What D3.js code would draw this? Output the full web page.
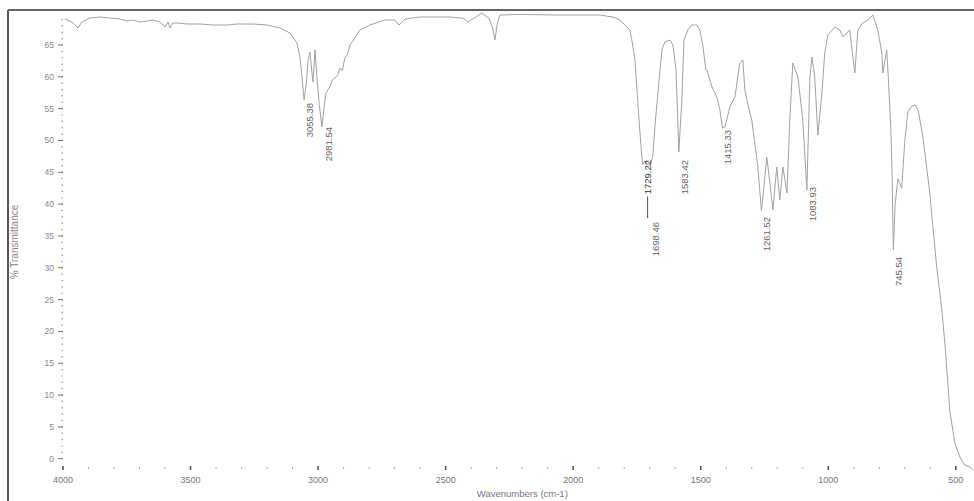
<!DOCTYPE html>
<html>
<head>
<meta charset="utf-8">
<script src="https://cdn.jsdelivr.net/npm/d3@7"></script>
<style>
  html, body { margin: 0; padding: 0; background: #fff; }
  svg { display: block; }
  text { font-family: "Liberation Sans", Arial, sans-serif; }
</style>
</head>
<body>
<svg id="chart" width="974" height="501"></svg>
<script>
// ---- data ----
const wavenumbers = [
  3992, 3965, 3941, 3926, 3894, 3855, 3816, 3777, 3749, 3726, 3698, 3671, 3647, 3620,
  3600, 3588, 3581, 3569, 3553, 3514, 3463, 3412, 3357, 3318, 3295, 3255, 3200, 3150,
  3110, 3083, 3071, 3063, 3055, 3046, 3040, 3032, 3025, 3020, 3012, 3005, 2995, 2985,
  2977, 2969, 2954, 2944, 2934, 2924, 2914, 2905, 2895, 2885, 2875, 2856, 2836, 2797,
  2738, 2699, 2683, 2660, 2601, 2483, 2430, 2413, 2358, 2330, 2315, 2307, 2297, 2287,
  2209, 2052, 1895, 1844, 1817, 1797, 1778, 1770, 1758, 1750, 1739, 1731, 1727, 1719,
  1712, 1699, 1688, 1680, 1668, 1652, 1641, 1621, 1609, 1597, 1590, 1586, 1574, 1566,
  1551, 1535, 1515, 1504, 1492, 1480, 1476, 1456, 1437, 1425, 1415, 1405, 1386, 1366,
  1347, 1335, 1327, 1315, 1300, 1276, 1262, 1241, 1229, 1217, 1202, 1190, 1178, 1162,
  1151, 1139, 1119, 1100, 1084, 1072, 1064, 1053, 1041, 1025, 1014, 1002, 974, 955,
  943, 916, 896, 884, 865, 845, 825, 806, 790, 786, 771, 765, 755, 750, 745,
  738, 727, 712, 700, 688, 672, 660, 648, 629, 602, 590, 575, 555, 543,
  524, 504, 484, 465, 445, 433
];
const transmittance = [
  69.08, 68.61, 67.67, 68.61, 69.24, 69.40, 69.24, 69.08, 68.77, 68.93, 68.61, 68.77, 68.93, 68.61,
  67.83, 68.61, 67.67, 68.46, 68.46, 68.30, 68.30, 68.14, 68.14, 68.30, 68.30, 68.30, 68.14, 67.67,
  66.88, 65.31, 63.11, 59.97, 56.40, 59.00, 62.50, 63.90, 61.00, 59.19, 64.21, 60.00, 55.50, 52.12,
  55.00, 57.50, 58.40, 59.50, 59.82, 60.20, 61.39, 61.00, 62.96, 63.50, 65.00, 66.10, 67.36, 68.14,
  68.93, 68.93, 68.14, 69.08, 69.40, 69.40, 69.20, 68.61, 70.02, 69.20, 67.50, 65.79, 68.50, 69.71,
  69.80, 69.71, 69.71, 69.40, 68.93, 68.14, 67.36, 65.79, 62.64, 57.93, 51.65, 47.50, 46.20, 46.80,
  46.30, 46.00, 47.50, 52.00, 57.46, 64.21, 65.47, 65.79, 65.00, 61.07, 53.22, 48.19, 56.36, 65.79,
  67.36, 68.14, 68.14, 67.36, 65.00, 61.07, 61.07, 58.40, 56.83, 54.79, 52.00, 52.12, 55.26, 56.83,
  62.17, 62.64, 57.93, 55.57, 53.22, 45.83, 38.90, 47.40, 43.32, 39.08, 45.83, 40.65, 45.83, 41.75,
  53.22, 62.17, 59.97, 53.22, 42.22, 59.97, 63.11, 59.97, 50.86, 57.46, 63.74, 66.57, 67.83, 67.36,
  66.26, 67.36, 60.60, 67.36, 68.46, 68.93, 69.71, 67.36, 63.74, 60.60, 64.21, 60.00, 52.00, 45.00, 32.80,
  40.00, 44.00, 42.50, 50.00, 54.50, 55.40, 55.57, 54.80, 50.55, 41.75, 36.41, 30.12, 23.37, 18.18,
  7.66, 2.47, 0.27, -1.00, -1.30, -1.77
];

const xMajorTicks = [4000, 3500, 3000, 2500, 2000, 1500, 1000, 500];
const yMajorTicks = [0, 5, 10, 15, 20, 25, 30, 35, 40, 45, 50, 55, 60, 65];

const peakLabels = ["3055.38", "2981.54", "1729.22", "1698.46", "1583.42", "1415.33", "1261.52", "1083.93", "745.54"];
const peakWn     = [3055.38, 2981.54, 1729.22, 1698.46, 1583.42, 1415.33, 1261.52, 1083.93, 745.54];
const peakLabelTopT = [55.89, 52.12, 46.93, 37.19, 46.93, 51.65, 37.98, 42.69, 31.69];

const xTitle = "Wavenumbers (cm-1)";
const yTitle = "% Transmittance";

// ---- drawing ----
const svg = d3.select("#chart");
const W = 974, H = 501;

const x = d3.scaleLinear().domain([4000, 430]).range([63, 973.7]);
const y = d3.scaleLinear().domain([-1.3, 70.5]).range([467, 10]);

// frame
svg.append("line").attr("x1", 8).attr("x2", 8).attr("y1", 10).attr("y2", H)
  .attr("stroke", "#555").attr("stroke-width", 2);
svg.append("line").attr("x1", 8).attr("x2", W).attr("y1", 10).attr("y2", 10)
  .attr("stroke", "#666").attr("stroke-width", 2);

// x axis: minor ticks every 100, major every 500
const xMinor = d3.range(4000, 399, -100);
const xAxisY = y(-1.3) + 1;
svg.append("g").selectAll("line").data(xMinor).join("line")
  .attr("x1", d => x(d)).attr("x2", d => x(d))
  .attr("y1", xAxisY - 1).attr("y2", xAxisY + 1)
  .attr("stroke", d => (d % 500 === 0 ? "#555" : "#aaa"))
  .attr("stroke-width", d => (d % 500 === 0 ? 1.6 : 1))
  .filter(d => d % 500 === 0)
  .attr("y1", xAxisY - 2).attr("y2", xAxisY + 2);

svg.append("g").selectAll("text").data(xMajorTicks).join("text")
  .attr("x", d => x(d)).attr("y", xAxisY + 15)
  .attr("text-anchor", "middle")
  .attr("font-size", 9).attr("fill", "#777")
  .text(d => d);

// y axis: minor dots every 1, major with labels every 5
const yMinor = d3.range(0, 70, 1);
const yAxisX = x(4000);
svg.append("g").selectAll("line").data(yMinor).join("line")
  .attr("x1", yAxisX - 1.5).attr("x2", yAxisX)
  .attr("y1", d => y(d)).attr("y2", d => y(d))
  .attr("stroke", "#999").attr("stroke-width", 1.2);
svg.append("g").selectAll("line").data(yMajorTicks).join("line")
  .attr("x1", yAxisX - 5).attr("x2", yAxisX)
  .attr("y1", d => y(d)).attr("y2", d => y(d))
  .attr("stroke", "#777").attr("stroke-width", 1);
svg.append("g").selectAll("text").data(yMajorTicks).join("text")
  .attr("x", yAxisX - 9).attr("y", d => y(d)).attr("dy", "0.35em")
  .attr("text-anchor", "end")
  .attr("font-size", 8.5).attr("fill", "#888")
  .text(d => d);

// titles
svg.append("text")
  .attr("x", (x(4000) + x(430)) / 2 + 4).attr("y", 497)
  .attr("text-anchor", "middle").attr("font-size", 9.5).attr("fill", "#777")
  .text(xTitle);
svg.append("text")
  .attr("transform", `translate(18, ${y(35) + 6}) rotate(-90)`)
  .attr("text-anchor", "middle").attr("font-size", 10).attr("fill", "#888")
  .text(yTitle);

// spectrum
const pts = wavenumbers.map((w, i) => [w, transmittance[i]]);
svg.append("path")
  .datum(pts)
  .attr("fill", "none")
  .attr("stroke", "#a2a2a2")
  .attr("stroke-width", 1)
  .attr("stroke-linejoin", "round")
  .attr("d", d3.line().x(d => x(d[0])).y(d => y(d[1])));

// peak labels (rotated, reading bottom to top, top end just below the peak)
const labelOffset = 5.5;
const lbl = svg.append("g").selectAll("text").data(peakLabels).join("text")
  .attr("transform", (d, i) => `translate(${x(peakWn[i]) + labelOffset}, ${y(peakLabelTopT[i])}) rotate(-90)`)
  .attr("text-anchor", "end")
  .attr("dy", "0.35em")
  .attr("font-size", 9.5)
  .attr("fill", (d, i) => (i === 2 ? "#333" : "#666"))
  .text(d => d);

// short leader below the 1729.22 label, pointing at the displaced 1698.46 label
const nodes = lbl.nodes();
const b1 = nodes[2].getBoundingClientRect();
const b2 = nodes[3].getBoundingClientRect();
const lx = (b1.left + b1.right) / 2;
svg.append("line")
  .attr("x1", lx).attr("y1", b1.bottom + 2)
  .attr("x2", lx).attr("y2", b2.top - 4)
  .attr("stroke", "#555").attr("stroke-width", 1);
</script>
</body>
</html>
